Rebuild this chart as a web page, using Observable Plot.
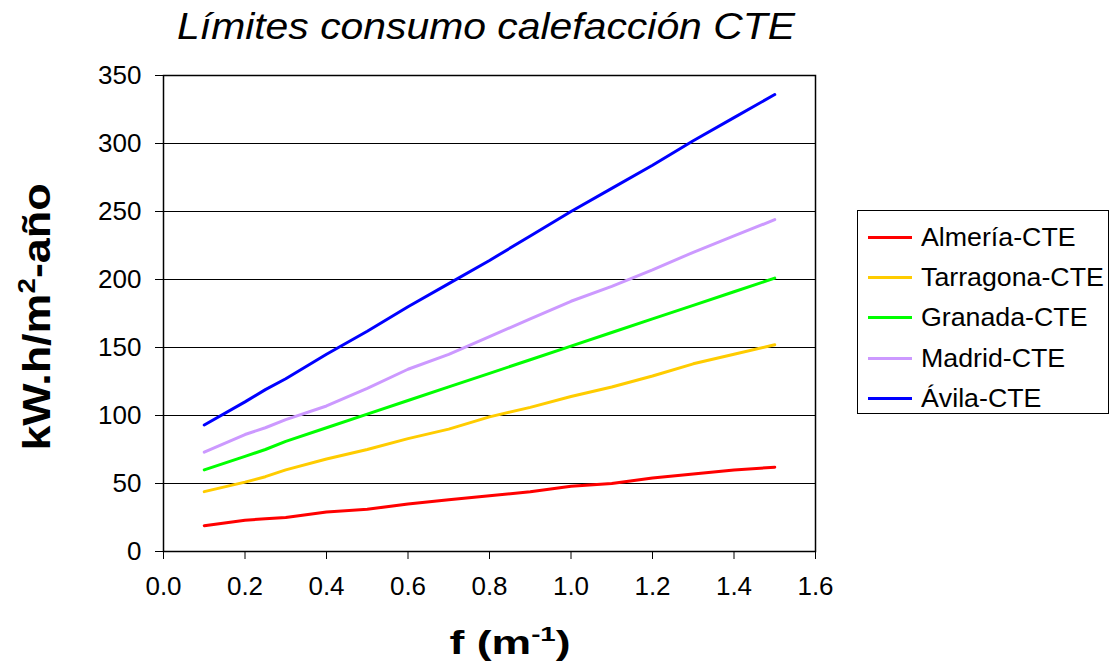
<!DOCTYPE html>
<html>
<head>
<meta charset="utf-8">
<script src="https://cdn.jsdelivr.net/npm/d3@7"></script>
<script src="https://cdn.jsdelivr.net/npm/@observablehq/plot@0.6"></script>
<style>
  body { margin: 0; background: #fff; font-family: Arial, "Liberation Sans", sans-serif; }
  #wrap { position: relative; width: 1114px; height: 672px; overflow: hidden; }
  #wrap svg { position: absolute; left: 0; top: 0; }
  .title { position: absolute; left: 486px; top: 8px; line-height: 1; white-space: nowrap; font-size: 37.5px; font-style: italic; transform: translateX(-50%) scaleX(1.09); }
  .ylab { position: absolute; left: 36px; top: 317px; line-height: 1; white-space: nowrap; font-size: 39px; font-weight: bold; transform: translate(-50%, -50%) rotate(-90deg) scaleX(1.15); }
  .xlab { position: absolute; left: 510px; top: 626px; line-height: 1; white-space: nowrap; font-size: 33px; font-weight: bold; transform: translateX(-50%) scaleX(1.35); }
  sup { font-size: 0.62em; line-height: 0; vertical-align: 0.62em; }
  .legend { position: absolute; left: 857px; top: 210px; width: 252px; height: 204px; border: 1px solid #000; box-sizing: border-box; padding-top: 6px; }
  .legend .item { display: flex; align-items: center; height: 40.3px; font-size: 25px; }
  .legend .sw { width: 44px; height: 3px; margin-left: 10px; margin-right: 9px; flex: none; }
  .legend .lab { display: inline-block; transform: scaleX(1.07); transform-origin: left center; white-space: nowrap; }
</style>
</head>
<body>
<div id="wrap"></div>
<script>
// Factor de forma f (m^-1) y límites de consumo de calefacción (kW·h/m²·año)
const f = [0.1, 0.2, 0.25, 0.3, 0.4, 0.5, 0.6, 0.7, 0.8, 0.9, 1.0, 1.1, 1.2, 1.3, 1.4, 1.5];
const almeria   = [19, 23, 24, 25, 29, 31, 35, 38, 41, 44, 48, 50, 54, 57, 60, 62];
const tarragona = [44, 51, 55, 60, 68, 75, 83, 90, 99, 106, 114, 121, 129, 138, 145, 152];
const granada   = [60, 70, 75, 81, 91, 101, 111, 121, 131, 141, 151, 161, 171, 181, 191, 201];
const madrid    = [73, 86, 91, 97, 107, 120, 134, 145, 158, 171, 184, 195, 207, 220, 232, 244];
const avila     = [93, 110, 119, 127, 145, 162, 180, 197, 214, 232, 250, 267, 284, 302, 319, 336];

const seriesNames = ["Almería-CTE", "Tarragona-CTE", "Granada-CTE", "Madrid-CTE", "Ávila-CTE"];
const seriesValues = [almeria, tarragona, granada, madrid, avila];
const seriesColors = ["#FF0000", "#FFCC00", "#00FF00", "#CC99FF", "#0000FF"];

const yTicks = [0, 50, 100, 150, 200, 250, 300, 350];
const xTicks = [0.0, 0.2, 0.4, 0.6, 0.8, 1.0, 1.2, 1.4, 1.6];

const rows = seriesNames.flatMap((name, i) =>
  f.map((x, j) => ({serie: name, f: x, v: seriesValues[i][j]}))
);

const chart = Plot.plot({
  width: 1114,
  height: 672,
  marginLeft: 163,
  marginRight: 299,
  marginTop: 75,
  marginBottom: 121,
  style: {fontFamily: "Arial, 'Liberation Sans', sans-serif", background: "transparent"},
  x: {domain: [0, 1.6]},
  y: {domain: [0, 350]},
  color: {domain: seriesNames, range: seriesColors},
  marks: [
    Plot.gridY(yTicks, {stroke: "#000", strokeOpacity: 1, strokeWidth: 1.2}),
    Plot.frame({stroke: "#000", strokeWidth: 1.5}),
    Plot.axisY({ticks: yTicks, tickSize: 8, tickPadding: 14, fontSize: 26, label: null, color: "#000"}),
    Plot.axisX({ticks: xTicks, tickSize: 8, tickPadding: 17, fontSize: 26, label: null, tickFormat: d3.format(".1f"), color: "#000"}),
    Plot.line(rows, {x: "f", y: "v", z: "serie", stroke: "serie", strokeWidth: 3})
  ]
});

const wrap = document.getElementById("wrap");
wrap.appendChild(chart);

const title = document.createElement("div");
title.className = "title";
title.textContent = "Límites consumo calefacción CTE";
wrap.appendChild(title);

const ylab = document.createElement("div");
ylab.className = "ylab";
ylab.innerHTML = "kW.h/m<sup>2</sup>-año";
wrap.appendChild(ylab);

const xlab = document.createElement("div");
xlab.className = "xlab";
xlab.innerHTML = "f (m<sup>-1</sup>)";
wrap.appendChild(xlab);

const legend = document.createElement("div");
legend.className = "legend";
seriesNames.forEach((name, i) => {
  const item = document.createElement("div");
  item.className = "item";
  const sw = document.createElement("span");
  sw.className = "sw";
  sw.style.background = seriesColors[i];
  const lab = document.createElement("span");
  lab.className = "lab";
  lab.textContent = name;
  item.appendChild(sw);
  item.appendChild(lab);
  legend.appendChild(item);
});
wrap.appendChild(legend);
</script>
</body>
</html>
